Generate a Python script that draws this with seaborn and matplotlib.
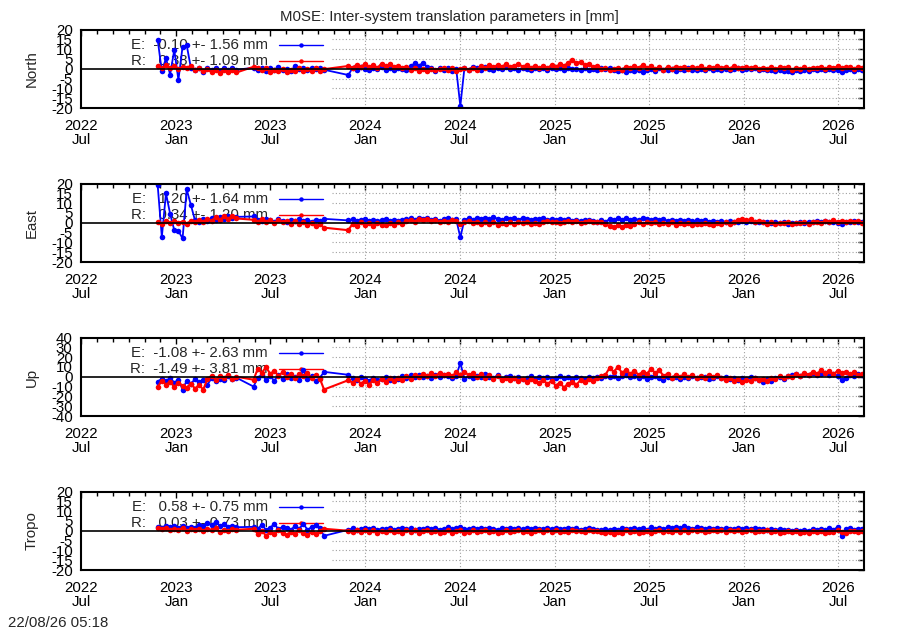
import numpy as np
import pandas as pd
import matplotlib
matplotlib.use("Agg")
import matplotlib.pyplot as plt
import matplotlib.dates as mdates
import seaborn as sns

sns.set_theme(style="white")
plt.rcParams["font.family"] = ["Liberation Sans", "DejaVu Sans"]

# ---------------- data ----------------
seg_starts = ["2022-11-26", "2023-05-30", "2023-11-29"]
seg_counts = [20, 18, 125]
step_days = 8

north_e = [
    14.8, -1.4, 5.4, -3.0, 9.6, -5.7, 11.3, 12.0, 0.5, -0.8,
    0.2, -1.5, 0.4, -0.6, 0.3, -1.0, 0.6, -0.4, 0.2, -0.5,
    0.5, -0.5, 0.3, -1.2, 0.2, -0.4, 0.8, -0.6, 0.1, -0.9,
    1.2, -0.3, 0.4, -0.7, 0.6, -0.2, 0.3, -0.5,
    -3.2, 0.4, -0.5, 0.8, 0.1, -0.6, 0.5, -0.2, 0.9, -0.4,
    0.3, -0.8, 0.6, 0.0, -0.5, 1.2, 2.8, 1.6, 3.0, 1.1,
    0.2, -1.0, 0.4, -0.6, 0.3, -0.9, 0.1, -19.0, 0.5, -0.4,
    0.9, 0.2, -0.6, 0.7, 0.0, -0.5, 0.6, -0.3, 0.8, -0.2,
    0.4, -0.7, 0.5, 0.1, -0.4, 0.6, -0.2, 0.3, -0.6, 0.5,
    -0.1, 0.2, -0.5, 0.4, -0.3, 0.1, -0.6, 0.3, -0.8, 0.0,
    -0.4, 0.5, -0.2, 0.3, -0.7, -1.2, -0.5, -1.6, -0.8, -1.3,
    -0.4, -1.5, -0.6, -0.2, -1.0, 0.3, -0.7, -0.4, 0.1, -0.9,
    -0.3, -0.6, 0.2, -0.8, -0.4, -0.1, -0.7, 0.2, -0.5, -0.3,
    -0.6, 0.1, -0.4, -0.2, 0.3, -0.5, 0.0, -0.3, 0.4, -0.6,
    -0.2, -0.8, -0.4, -1.1, -0.6, -1.4, -0.9, -1.6, -0.7, -1.2,
    -0.5, -0.9, -0.3, -0.7, -0.2, -0.6, 0.1, -0.4, -0.8, -1.5,
    -0.6, -0.3, -0.9, -0.2, -0.5,
]
north_r = [
    1.2, 0.2, 1.8, 0.5, 1.5, -0.3, 1.0, 0.4, 1.6, -0.5,
    0.3, -1.2, -0.2, -1.8, -0.6, -2.0, -0.4, -1.6, -0.8, -1.9,
    1.0, 0.2, -0.8, 0.3, -1.5, -0.4, -1.2, 0.1, -1.6, -0.6,
    -1.0, 0.2, -1.4, -0.3, -0.9, 0.4, -1.1, -0.2,
    1.4, 0.6, 2.0, 1.0, 2.4, 0.8, 1.8, 0.5, 2.6, 1.2,
    2.2, 0.9, 1.5, 0.4, 1.1, -0.5, 0.3, -1.2, -0.2, -1.0,
    0.1, -0.8, -0.2, 0.5, -0.6, 0.2, -0.9, -0.3, 0.4, -0.5,
    0.6, -0.4, 1.2, 0.3, 1.8, 0.7, 2.0, 1.0, 2.3, 0.8,
    1.6, 2.4, 1.1, 1.9, 0.6, 1.4, 0.3, 1.2, 0.5, 1.7,
    1.0, 2.2, 1.5, 3.0, 4.5, 2.8, 3.6, 1.8, 2.4, 0.9,
    1.2, -0.2, 0.4, -0.8, -0.3, 0.6, -0.4, 1.0, 0.2, 1.5,
    0.4, 2.0, 0.6, 1.3, -0.2, 0.8, -0.5, 0.9, 0.1, 1.1,
    0.2, 0.9, -0.3, 1.0, 0.3, 1.2, -0.1, 0.7, 0.4, 1.3,
    0.5, 0.9, 0.1, 1.4, 0.6, 0.2, 1.1, 0.4, 0.8, -0.2,
    0.6, 0.1, 0.9, -0.3, 0.7, 0.2, 1.0, -0.4, 0.5, 0.0,
    0.8, -0.2, 0.6, 0.3, 1.1, 0.0, 0.9, 0.4, 1.2, 0.2,
    0.7, 1.0, 0.1, 0.9, 0.4,
]
east_e = [
    19.0, -7.2, 15.0, 4.5, -3.8, -4.2, -8.0, 17.0, 9.0, 1.2,
    0.5, 1.8, 0.9, 2.4, 1.5, 2.8, 2.0, 3.2, 2.5, 3.0,
    3.2, 1.5, 0.8, 2.0, 1.2, 0.6, 1.8, 1.0, 0.4, 1.5,
    0.9, 1.9, 0.7, 1.3, 0.5, 1.6, 1.0, 2.0,
    1.2, 1.8, 0.9, 1.5, 2.0, 1.1, 1.6, 0.8, 1.4, 1.9,
    1.0, 1.5, 0.7, 1.3, 1.8, 2.2, 1.6, 2.5, 1.9, 2.3,
    1.4, 2.0, 1.1, 1.7, 2.4, 1.3, 1.8, -7.5, 1.6, 2.2,
    1.5, 2.6, 1.9, 2.3, 1.7, 2.8, 2.0, 1.4, 2.5, 1.8,
    2.2, 1.6, 2.4, 1.9, 1.3, 2.1, 1.7, 2.5, 1.5, 1.9,
    1.2, 1.8, 1.4, 2.0, 1.1, 1.6, 0.9, 1.5, 1.2, 0.8,
    0.5, 1.2, 0.6, 1.8, 1.3, 2.2, 1.6, 2.5, 1.4, 2.0,
    1.5, 2.3, 1.7, 1.2, 2.0, 1.4, 1.8, 1.0, 1.6, 1.1,
    1.5, 0.9, 1.3, 0.7, 1.2, 0.8, 1.4, 0.6, 1.0, 0.5,
    0.8, 0.3, 0.7, 0.2, 0.6, 0.9, 0.4, 0.8, 0.3, 0.6,
    0.2, 0.5, -0.1, 0.4, -0.3, 0.2, -0.5, 0.1, -0.2, 0.3,
    0.0, 0.5, 0.2, 0.7, 0.4, 0.9, 0.3, 0.6, 0.1, -0.4,
    0.5, 0.2, 0.8, 0.4, 0.6,
]
east_r = [
    0.3, -0.5, 0.8, -0.2, 1.0, 0.1, 0.6, -0.4, 0.9, 0.2,
    1.2, 0.5, 2.0, 1.0, 2.8, 1.6, 3.2, 2.0, 3.5, 2.2,
    1.5, 0.4, 1.8, 0.6, 1.2, -0.2, 1.4, 0.3, 1.0, -0.4,
    0.8, -0.6, 0.5, -1.0, -0.2, -1.8, -0.8, -2.5,
    -3.8, -0.5, -1.8, 0.2, -1.2, -0.3, -1.6, 0.1, -0.9, -1.4,
    -0.2, -1.0, 0.3, -0.6, 0.8, 1.5, 0.6, 2.0, 1.2, 1.8,
    0.9, 1.4, 0.3, 1.1, 0.5, 1.6, 0.8, -0.4, 0.2, 0.7,
    -0.3, 0.5, -0.8, 0.2, -0.5, 0.4, -1.0, 0.0, -0.6, 0.3,
    -0.4, 0.6, -0.2, 0.5, -0.7, 0.1, -0.4, 0.3, 0.8, 0.2,
    0.6, -0.1, 0.4, 0.9, 0.2, 0.7, 0.0, 0.5, 0.9, 0.3,
    0.6, 0.2, -0.8, -1.6, -2.2, -1.4, -2.0, -0.9, -1.5, -0.5,
    0.2, -0.6, 0.4, -0.3, 0.6, -0.8, 0.1, -0.5, 0.3, -0.9,
    -0.2, -0.7, 0.1, -1.0, -0.4, -0.8, 0.0, -0.6, -1.1, -0.3,
    -0.7, 0.2, -0.4, 0.5, 1.4, 2.0, 1.2, 1.8, 0.6, 1.0,
    0.2, -0.4, 0.3, -0.6, 0.1, -0.3, 0.4, -0.5, 0.0, -0.2,
    0.3, -0.4, 0.2, 0.6, 0.0, 0.8, 0.3, 1.2, 0.5, 0.9,
    0.2, 1.0, 0.4, 0.7, 0.1,
]
up_e = [
    -5.0, -2.0, -4.5, -1.0, -6.0, -3.0, -13.0, -4.0, -7.0, -2.5,
    -5.5, -3.5, -8.0, -1.5, -4.0, -2.0, -3.0, 0.5, -2.5, -1.0,
    -10.0, -1.0, 2.0, -3.0, 0.5, -4.0, 1.5, -2.0, 3.0, -1.5,
    0.0, -3.5, 7.0, -2.5, 1.0, -4.5, -1.0, 5.0,
    2.0, -1.5, -3.0, -0.5, -2.5, -4.0, -1.0, -3.5, -2.0, -0.5,
    -3.0, -1.5, -2.5, 0.5, -1.0, 1.5, -0.5, 2.0, 0.0, 1.0,
    -1.0, 1.5, -0.5, 2.0, 0.5, -1.5, 1.0, 14.0, -2.0, 0.5,
    -1.5, 1.0, -0.5, 2.5, 0.0, -1.0, 1.5, -2.0, -0.5, 0.5,
    -1.5, -0.5, -2.5, -1.0, 0.5, -2.0, -0.5, -1.5, 0.0, -2.5,
    -1.0, 0.5, -1.5, -0.5, -2.0, 0.0, -1.0, -2.5, -0.5, -1.5,
    0.0, -1.0, 0.5, -0.5, 1.0, -1.5, 0.5, 2.0, -0.5, 1.0,
    -1.0, 0.5, -2.0, -0.5, 1.0, -1.5, -3.0, -0.5, -1.5, 0.0,
    -2.0, -0.5, -1.0, 0.5, -1.5, -0.5, 0.0, -2.0, -1.0, 0.5,
    -1.5, -0.5, -2.5, -1.0, -3.0, -1.5, -2.0, -0.5, -1.5, -3.5,
    -5.0, -2.5, -4.0, -1.5, -0.5, -2.0, 0.5, 1.5, 2.5, 1.0,
    3.0, 2.0, 3.5, 1.5, 2.5, 4.0, 2.0, 3.0, 1.0, -3.5,
    -1.0, 2.0, 0.5, 3.0, 1.5,
]
up_r = [
    -10.0, -4.0, -8.0, -5.0, -10.5, -6.0, -9.0, -11.0, -7.0, -12.0,
    -8.5, -13.0, -2.0, 1.0, -3.0, 0.5, -1.5, 2.0, -2.0, 0.0,
    -3.0, 8.0, 4.0, 10.0, 3.0, 6.0, 1.0, 4.5, 0.0, 3.0,
    -1.0, 2.5, 0.5, 3.5, -1.5, 2.0, -2.0, -13.0,
    -3.5, -6.0, -2.5, -7.0, -4.0, -8.0, -3.0, -6.5, -2.0, -5.0,
    -1.5, -4.0, -1.0, -3.0, 0.5, -2.0, 1.5, -0.5, 3.0, 0.5,
    3.5, 1.0, 4.0, 2.0, 3.0, 0.5, 4.5, 2.0, 5.0, 1.5,
    3.5, 0.0, 2.5, -1.0, 1.5, -2.0, 0.5, -3.0, -1.0, -3.5,
    -1.5, -4.0, -2.0, -5.0, -2.5, -4.5, -6.0, -3.0, -7.5, -4.0,
    -9.0, -6.0, -11.0, -7.0, -5.0, -8.0, -3.5, -5.5, -2.0, -4.0,
    -1.0, 0.5, 2.0, 9.0, 5.0, 10.0, 4.0, 7.0, 3.0, 6.0,
    2.0, 5.0, 3.0, 8.0, 4.0, 6.5, 1.0, 3.0, -1.0, 2.0,
    0.0, 2.5, -0.5, 1.5, -1.5, 1.0, -1.0, 2.0, 0.0, 1.5,
    -1.0, -3.0, -1.5, -4.5, -2.0, -5.0, -3.0, -4.0, -1.5, -3.5,
    -2.0, -4.0, -1.0, -2.5, 0.5, -1.5, 1.0, -0.5, 2.5, 1.0,
    4.0, 2.0, 5.0, 3.0, 6.5, 3.5, 5.5, 2.5, 6.0, 4.0,
    5.0, 2.5, 4.5, 1.5, 3.0,
]
tropo_e = [
    2.0, 1.5, 2.5, 1.8, 2.2, 1.2, 2.6, 1.6, 2.0, 1.4,
    3.0, 2.2, 4.0, 2.8, 4.5, 2.5, 3.2, 2.0, 2.4, 1.8,
    2.0, 1.0, 3.0, 0.5, 1.5, 3.5, 0.8, 2.0, 1.2, 0.4,
    2.5, 1.0, 3.5, 0.6, 1.8, 3.0, 1.2, -2.6,
    0.5, 1.2, 0.6, 1.0, 1.5, 0.8, 1.3, 0.4, 1.1, 0.7,
    1.4, 0.6, 1.0, 1.6, 0.9, 1.2, 0.5, 1.1, 0.8, 1.4,
    0.7, 1.3, 0.6, 1.0, 1.7, 0.9, 1.2, 2.0, 1.1, 0.8,
    1.5, 0.7, 1.2, 0.9, 1.6, 1.0, 0.6, 1.3, 0.8, 1.4,
    1.0, 1.6, 0.7, 1.2, 0.9, 1.5, 1.1, 0.8, 1.4, 1.0,
    1.3, 0.7, 1.1, 1.5, 0.9, 1.2, 0.6, 1.0, 1.4, 0.8,
    0.6, 0.2, 0.9, 0.4, 1.0, 0.5, 1.2, 0.7, 1.1, 1.5,
    0.9, 1.3, 0.6, 1.7, 1.0, 1.4, 0.8, 1.8, 1.2, 2.0,
    1.3, 2.2, 1.6, 1.0, 1.8, 1.2, 0.8, 1.5, 1.0, 1.6,
    0.9, 1.4, 1.1, 0.7, 1.3, 0.9, 1.5, 1.0, 1.2, 0.8,
    1.1, 0.6, 1.0, 0.4, 0.8, 0.2, 0.6, 0.0, 0.5, -0.2,
    0.4, 0.1, 0.7, 0.3, 0.9, 0.5, 1.2, 0.6, 1.8, -2.5,
    0.8, 1.3, 0.6, 1.1, 0.9,
]
tropo_r = [
    1.5, 0.8, 1.2, 0.2, 1.0, 0.5, 1.4, 0.0, 0.9, 0.3,
    1.1, -0.2, 0.8, 0.4, 1.2, -0.5, 0.6, 0.1, 0.9, 0.5,
    1.0, -1.5, 0.0, -2.5, -0.8, -1.8, 0.2, -1.2, -2.0, -0.5,
    -1.5, 0.3, -1.0, -2.2, -0.4, -1.6, 0.0, 1.0,
    0.0, -0.6, 0.4, -0.8, 0.2, -0.4, 0.5, -1.0, 0.1, -0.5,
    0.3, -0.7, 0.0, -1.2, 0.4, -0.6, 0.2, -0.9, -0.3, 0.5,
    -0.8, 0.1, -1.1, -0.4, 0.3, -0.9, -0.2, 0.4, -1.0, -0.5,
    0.2, -0.8, -0.3, 0.5, -0.6, 0.0, -1.2, -0.4, 0.3, -0.7,
    -0.2, 0.4, -0.5, 0.1, -0.9, -0.3, 0.5, -0.6, 0.2, -0.4,
    0.3, -0.5, 0.0, -0.8, 0.4, -0.3, 0.1, -0.6, 0.2, -0.2,
    0.0, -0.4, -1.3, -0.7, -1.6, -0.5, -1.0, 0.2, -0.8, -0.3,
    -1.4, -0.5, 0.1, -0.9, -0.3, 0.4, -0.7, 0.0, -0.5, 0.3,
    -0.4, 0.2, -0.6, 0.5, -0.2, 0.3, -0.5, 0.1, 0.4, -0.3,
    0.2, -0.4, 0.5, -0.1, 0.3, -0.6, 0.0, 0.4, -0.5, 0.1,
    -0.3, 0.2, -0.7, -0.2, -1.0, -0.4, 0.1, -0.8, -0.3, -1.1,
    -0.5, -0.9, -0.2, -0.6, 0.0, -1.0, -0.4, -0.8, 0.2, -0.5,
    -0.9, -0.3, 0.1, -0.7, -0.2,
]

panel_names = ["North", "East", "Up", "Tropo"]
panel_ylims = [(-20, 20), (-20, 20), (-40, 40), (-20, 20)]
panel_ysteps = [5, 5, 10, 5]
legend_e = ["E:  -0.10 +- 1.56 mm", "E:   1.20 +- 1.64 mm",
            "E:  -1.08 +- 2.63 mm", "E:   0.58 +- 0.75 mm"]
legend_r = ["R:   0.38 +- 1.09 mm", "R:   0.34 +- 1.20 mm",
            "R:  -1.49 +- 3.81 mm", "R:   0.03 +- 0.73 mm"]
xtick_dates = ["2022-07-01", "2023-01-01", "2023-07-01", "2024-01-01",
               "2024-07-01", "2025-01-01", "2025-07-01", "2026-01-01",
               "2026-07-01"]
xtick_labels = ["2022\nJul", "2023\nJan", "2023\nJul", "2024\nJan",
                "2024\nJul", "2025\nJan", "2025\nJul", "2026\nJan",
                "2026\nJul"]
x_start, x_end = "2022-07-01", "2026-08-20"
title = "M0SE: Inter-system translation parameters in [mm]"
stamp = "22/08/26 05:18"

# ---------------- build table ----------------
dates = pd.DatetimeIndex(np.concatenate([
    pd.date_range(s, periods=n, freq=f"{step_days}D").values
    for s, n in zip(seg_starts, seg_counts)]))
df = pd.DataFrame({
    "date": dates,
    "North_E": north_e, "North_R": north_r,
    "East_E": east_e, "East_R": east_r,
    "Up_E": up_e, "Up_R": up_r,
    "Tropo_E": tropo_e, "Tropo_R": tropo_r,
})

BLUE = "#0000ff"
RED = "#ff0000"
GRID = "#a0a0a0"
FS = 10.8
MS = 4.0

fig = plt.figure(figsize=(9, 6.3), dpi=100)
W, H = 900.0, 630.0
ax_left, ax_w, ax_h = 81 / W, 783 / W, 78.5 / H
cut = (332 - 81) / 783.0  # opaque key region (no grid)

xnums = mdates.date2num(pd.to_datetime(xtick_dates))
xlo = mdates.date2num(pd.Timestamp(x_start))
xhi = mdates.date2num(pd.Timestamp(x_end))

for k, name in enumerate(panel_names):
    bottom = 1 - (108 + 154 * k) / H
    ax = fig.add_axes([ax_left, bottom, ax_w, ax_h])
    ax.set_facecolor("white")
    lo, hi = panel_ylims[k]
    st = panel_ysteps[k]

    # grid (only right of the key area)
    for yv in np.arange(lo + st, hi, st):
        if yv != 0:
            ax.axhline(yv, xmin=cut, xmax=1, color=GRID, lw=0.8,
                       ls=(0, (1, 2)), zorder=0.6)
    for xv in xnums:
        if (xv - xlo) / (xhi - xlo) > cut:
            ax.axvline(xv, color=GRID, lw=0.8, ls=(0, (1, 2)), zorder=0.6)

    sns.lineplot(data=df, x="date", y=f"{name}_E", ax=ax, color=BLUE,
                 lw=1.3, marker="o", markersize=MS, markeredgewidth=0,
                 estimator=None, sort=False, legend=False, zorder=2)
    sns.lineplot(data=df, x="date", y=f"{name}_R", ax=ax, color=RED,
                 lw=1.5, marker="o", markersize=MS, markeredgewidth=0,
                 estimator=None, sort=False, legend=False, zorder=3)
    ax.axhline(0, color="black", lw=1.2, zorder=5)

    # key
    for row, (txt, col) in enumerate([(legend_e[k], BLUE), (legend_r[k], RED)]):
        yy = 1 - (15.5 + 16 * row) / 78.5
        ax.text((268 - 81) / 783, yy, txt, transform=ax.transAxes,
                ha="right", va="center", fontsize=FS, zorder=1.5)
        ax.plot([(279 - 81) / 783, (323 - 81) / 783], [yy, yy],
                transform=ax.transAxes, color=col, lw=1.0, zorder=1.6)
        ax.plot([(301 - 81) / 783], [yy], transform=ax.transAxes,
                color=col, marker="o", markersize=3.2, mew=0, zorder=1.6)

    ax.set_xlim(xlo, xhi)
    ax.set_ylim(lo, hi)
    ax.set_yticks(np.arange(lo, hi + st, st))
    ax.set_yticklabels([str(int(v)) for v in np.arange(lo, hi + st, st)])
    ax.set_xticks(xnums)
    ax.set_xticklabels(xtick_labels)
    ax.xaxis.set_minor_locator(mdates.MonthLocator())
    for lbl in ax.get_xticklabels():
        lbl.set_linespacing(0.95)
    ax.tick_params(axis="both", which="both", direction="in", top=True,
                   right=True, labelsize=FS, colors="black", width=1.0)
    ax.tick_params(axis="both", which="major", length=4.5)
    ax.tick_params(axis="x", which="minor", length=3)
    ax.tick_params(axis="x", which="major", pad=8)
    ax.tick_params(axis="y", which="major", pad=6)
    ax.set_xlabel("")
    ax.set_ylabel("")
    for sp in ax.spines.values():
        sp.set_color("black")
        sp.set_linewidth(1.5)
        sp.set_zorder(6)
    fig.text(31.5 / W, 1 - (69 + 154 * k) / H, name, rotation=90,
             ha="center", va="center", fontsize=FS)

fig.text(449.5 / W, 1 - 20.5 / H, title, ha="center", va="baseline",
         fontsize=FS)
fig.text(8 / W, 1 - 627 / H, stamp, ha="left", va="baseline", fontsize=FS)

fig.savefig("out.png", dpi=100, facecolor="white")
